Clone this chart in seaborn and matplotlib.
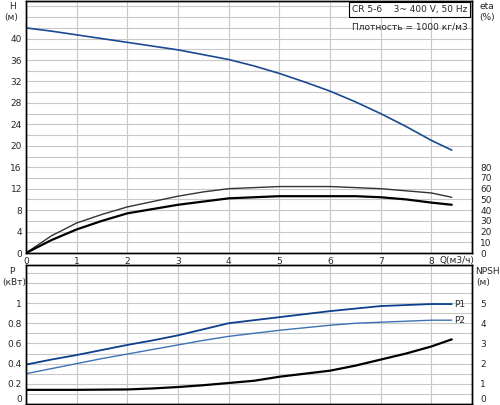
import matplotlib
matplotlib.use("Agg")
from matplotlib import pyplot as plt
from matplotlib.ticker import MultipleLocator
import seaborn as sns
import pandas as pd

# flow points, m3/h
q = [0, 0.5, 1, 1.5, 2, 2.5, 3, 3.5, 4, 4.5, 5, 5.5, 6, 6.5, 7, 7.5, 8, 8.4]
# head, m
head = [42.0, 41.4, 40.7, 40.0, 39.3, 38.6, 37.9, 37.0, 36.1, 34.9, 33.5, 31.9, 30.2, 28.2, 26.0, 23.6, 21.0, 19.2]
# efficiency curves, %
eta_upper = [0, 16, 28, 36, 43, 48, 53, 57, 60, 61, 62, 62, 62, 61, 60, 58, 56, 52]
eta_lower = [0, 12, 22, 30, 37, 41, 45, 48, 51, 52, 53, 53, 53, 53, 52, 50, 47, 45]
# power, kW
p1 = [0.39, 0.44, 0.485, 0.535, 0.585, 0.63, 0.68, 0.74, 0.80, 0.83, 0.86, 0.89, 0.92, 0.945, 0.97, 0.98, 0.99, 0.99]
p2 = [0.30, 0.35, 0.40, 0.45, 0.495, 0.54, 0.585, 0.63, 0.67, 0.70, 0.73, 0.755, 0.78, 0.80, 0.81, 0.82, 0.83, 0.83]
# NPSH, m
npsh = [0.7, 0.7, 0.7, 0.71, 0.72, 0.77, 0.84, 0.93, 1.04, 1.15, 1.35, 1.5, 1.65, 1.9, 2.2, 2.5, 2.85, 3.2]

df = pd.DataFrame({"Q": q, "H": head, "eta1": eta_upper, "eta2": eta_lower,
                   "P1": p1, "P2": p2, "NPSH": npsh})

sns.set_style("white")
plt.rcParams["font.family"] = ["DejaVu Sans"]
plt.rcParams["font.size"] = 6.5

fig = plt.figure(figsize=(5, 4.05), dpi=100)
ax1 = fig.add_axes([0.052, 0.3753, 0.892, 0.622])
ax2 = fig.add_axes([0.052, 0.0025, 0.892, 0.343])
grid_c = "#c8c8c8"
xmax = 8.8

# --- top: head + efficiency
ax1.set_xlim(0, xmax)
ax1.set_ylim(0, 47)
ax1.grid(True, which="both", axis="y", color=grid_c, lw=0.8)
ax1.grid(True, which="major", axis="x", color=grid_c, lw=0.8)
ax1.set_yticks(range(0, 41, 4))
ax1.set_yticks(range(0, 47, 2), minor=True)
sns.lineplot(data=df, x="Q", y="H", ax=ax1, color="#1b4a93", lw=1.2)
ax1.set_xlabel("")
ax1.set_ylabel("")
ax1.tick_params(which="both", length=0, pad=3)

ax1r = ax1.twinx()
ax1r.set_ylim(0, 47 * 5)
sns.lineplot(data=df, x="Q", y="eta1", ax=ax1r, color="#333333", lw=1.0)
sns.lineplot(data=df, x="Q", y="eta2", ax=ax1r, color="black", lw=1.6)
ax1r.set_yticks(range(0, 81, 10))
ax1r.set_ylabel("")
ax1r.tick_params(length=0, pad=6)
ax1r.set_xlim(0, xmax)

ax1.set_xticks(range(0, 9))
ax1.set_xticklabels([str(i) for i in range(0, 9)])

fig.text(0.018, 0.985, "H", ha="left", va="center", fontsize=6.5)
fig.text(0.008, 0.958, "(м)", ha="left", va="center", fontsize=6.5)
fig.text(0.958, 0.985, "eta", ha="left", va="center", fontsize=6.5)
fig.text(0.958, 0.958, "(%)", ha="left", va="center", fontsize=6.5)
fig.text(0.878, 0.356, "Q(м3/ч)", ha="left", va="center", fontsize=6.5)
ax1.text(0.99, 0.985, "CR 5-6    3~ 400 V, 50 Hz", transform=ax1.transAxes,
         ha="right", va="top", fontsize=6.5,
         bbox=dict(boxstyle="square,pad=0.3", fc="white", ec="black", lw=0.8))
ax1.text(0.99, 0.915, "Плотность = 1000 кг/м3", transform=ax1.transAxes,
         ha="right", va="top", fontsize=6.5)

# --- bottom: power + NPSH
ax2.set_xlim(0, xmax)
ax2.set_ylim(0, 1.376)
ax2.set_xticks(range(0, 9))
ax2.set_xticklabels([])
ax2.set_yticks([0, 0.2, 0.4, 0.6, 0.8, 1.0])
ax2.set_yticklabels(["0", "0.2", "0.4", "0.6", "0.8", "1"])
ax2.set_yticks([i / 10 for i in range(0, 14)], minor=True)
ax2.grid(True, which="both", axis="y", color=grid_c, lw=0.8)
ax2.grid(True, which="major", axis="x", color=grid_c, lw=0.8)
sns.lineplot(data=df, x="Q", y="P1", ax=ax2, color="#0d3f8c", lw=1.3)
sns.lineplot(data=df, x="Q", y="P2", ax=ax2, color="#3d72b4", lw=1.0)
ax2.set_xlabel("")
ax2.set_ylabel("")
ax2.tick_params(which="both", length=0, pad=3)
ax2.text(df.Q.iloc[-1] + 0.05, p1[-1], "P1", ha="left", va="center", fontsize=6.5)
ax2.text(df.Q.iloc[-1] + 0.05, p2[-1], "P2", ha="left", va="center", fontsize=6.5)

ax2r = ax2.twinx()
ax2r.set_ylim(0, 1.376 * 5)
sns.lineplot(data=df, x="Q", y="NPSH", ax=ax2r, color="black", lw=1.6)
ax2r.set_yticks(range(0, 6))
ax2r.set_ylabel("")
ax2r.tick_params(length=0, pad=6)
ax2r.set_xlim(0, xmax)

# keep the zero labels inside the figure
ax2.get_yticklabels()[0].set_va("bottom")
ax2r.get_yticklabels()[0].set_va("bottom")

fig.text(0.018, 0.33, "P", ha="left", va="center", fontsize=6.5)
fig.text(0.004, 0.302, "(кВт)", ha="left", va="center", fontsize=6.5)
fig.text(0.95, 0.33, "NPSH", ha="left", va="center", fontsize=6.5)
fig.text(0.952, 0.302, "(м)", ha="left", va="center", fontsize=6.5)

for a in (ax1, ax1r, ax2, ax2r):
    for s in a.spines.values():
        s.set_color("black")
        s.set_linewidth(1.0)

fig.savefig("out.png", dpi=100)
